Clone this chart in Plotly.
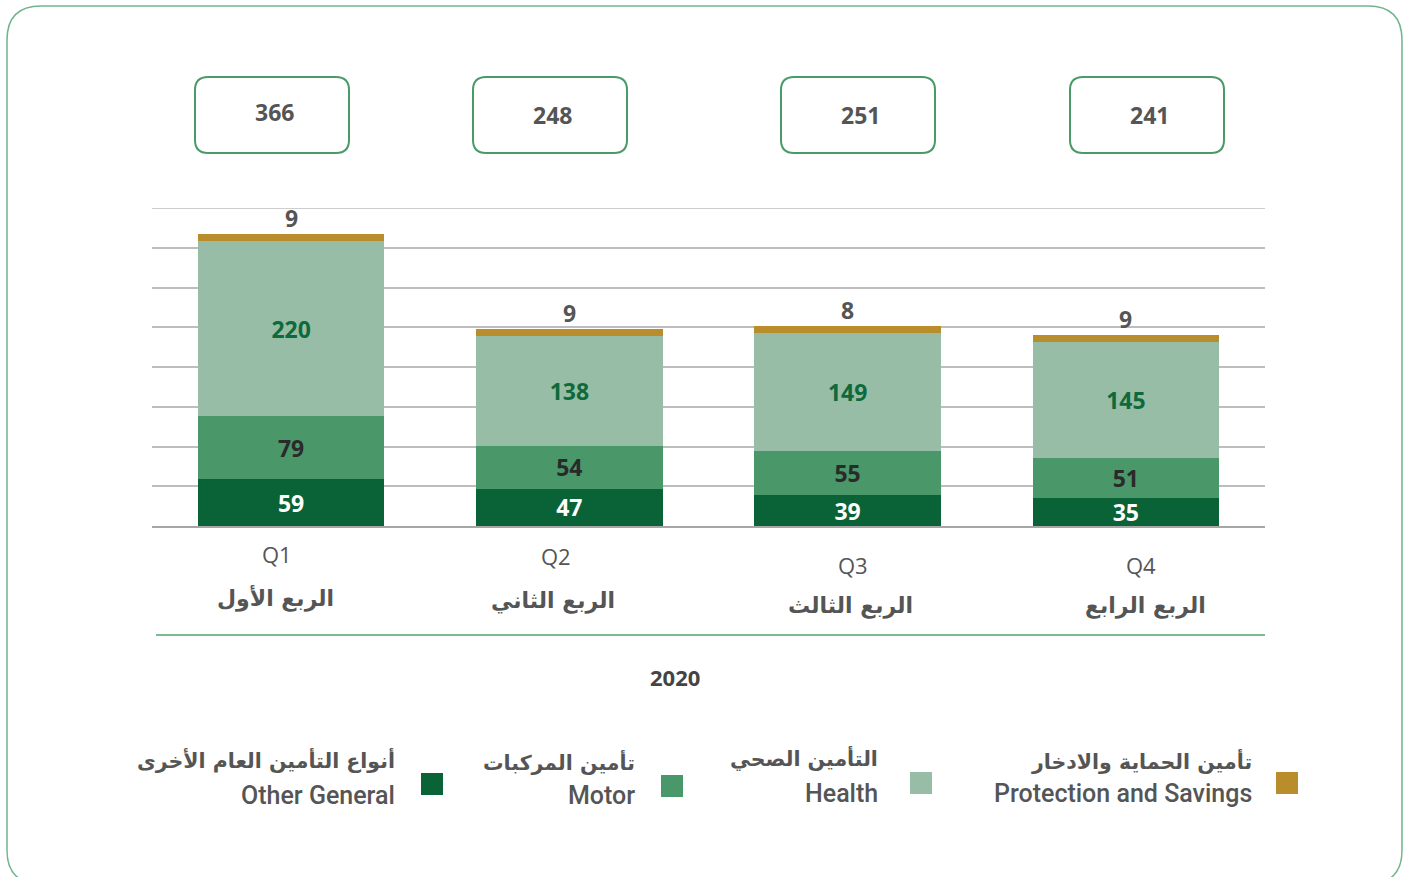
import plotly.graph_objects as go

# ---------------- data ----------------
quarters = ["Q1", "Q2", "Q3", "Q4"]
quarters_ar = ["الربع الأول", "الربع الثاني", "الربع الثالث", "الربع الرابع"]
year_label = "2020"
other_general = [59, 47, 39, 35]
motor = [79, 54, 55, 51]
health = [220, 138, 149, 145]
protection = [9, 9, 8, 9]
totals = [366, 248, 251, 241]
series_en = ["Other General", "Motor", "Health", "Protection and Savings"]
series_ar = ["أنواع التأمين العام الأخرى", "تأمين المركبات", "التأمين الصحي", "تأمين الحماية والادخار"]

# ---------------- style ----------------
W, H = 1407, 877
ML, MR, MT, MB = 152, 142, 208, 351
PW, PH = W - ML - MR, H - MT - MB
C_DARK = "#0a6337"
C_MOTOR = "#4a9869"
C_HEALTH = "#98bda6"
C_GOLD = "#b98c2c"
GRAY = "#555555"
FONT = "Open Sans, DejaVu Sans, sans-serif"
LFONT = "Roboto, DejaVu Sans, sans-serif"
AFONT = "DejaVu Sans, sans-serif"


def px(x):
    return (x - ML) / PW


def py(y):
    return (MT + PH - y) / PH


def rounded_rect(x0, y0, x1, y1, r):
    rx, ry = r / PW, r / PH
    X0, X1 = px(x0), px(x1)
    Y0, Y1 = py(y0), py(y1)
    return (f"M {X0+rx},{Y0} L {X1-rx},{Y0} Q {X1},{Y0} {X1},{Y0-ry} "
            f"L {X1},{Y1+ry} Q {X1},{Y1} {X1-rx},{Y1} "
            f"L {X0+rx},{Y1} Q {X0},{Y1} {X0},{Y1+ry} "
            f"L {X0},{Y0-ry} Q {X0},{Y0} {X0+rx},{Y0} Z")


def label(x, y, text, font, xanchor="center"):
    return dict(x=px(x), y=py(y), xref="paper", yref="paper", text=text,
                showarrow=False, xanchor=xanchor, yanchor="middle", font=font)


fig = go.Figure()

bar_specs = [
    (other_general, C_DARK, "white", True),
    (motor, C_MOTOR, "#2a2a2a", True),
    (health, C_HEALTH, "#0e6a3c", True),
    (protection, C_GOLD, GRAY, False),
]
for (vals, col, tcol, show), name in zip(bar_specs, series_en):
    fig.add_trace(go.Bar(
        x=quarters, y=vals, name=name,
        marker=dict(color=col, line=dict(width=0)),
        text=[str(v) for v in vals] if show else None,
        textposition="inside" if show else "none",
        insidetextanchor="middle",
        textangle=0,
        constraintext="none",
        textfont=dict(family=FONT, size=23, color=tcol, weight="bold"),
        cliponaxis=False,
        showlegend=False,
        hoverinfo="skip",
    ))

annotations = []
shapes = []

# protection labels above the stacks
for i, q in enumerate(quarters):
    top = other_general[i] + motor[i] + health[i] + protection[i]
    annotations.append(dict(
        x=q, y=top, xref="x", yref="y", text=str(protection[i]),
        showarrow=False, xanchor="center", yanchor="middle", yshift=16,
        font=dict(family=FONT, size=23, color=GRAY, weight="bold")))

# top gridline (at range edge)
shapes.append(dict(type="line", xref="paper", yref="y", x0=0, x1=1, y0=400, y1=400,
                   line=dict(color="#bdbdbd", width=1.5)))

# total boxes
box_centers = [272, 550, 858, 1147]
box_text_y = [112, 115, 115, 115]
for i, tot in enumerate(totals):
    cx = box_centers[i]
    shapes.append(dict(type="path", xref="paper", yref="paper",
                       path=rounded_rect(cx - 77, 77, cx + 77, 153, 13),
                       line=dict(color="#4a9a68", width=2), fillcolor="rgba(0,0,0,0)"))
    annotations.append(label(cx + 2, box_text_y[i], str(tot),
                             dict(family=FONT, size=23, color=GRAY, weight="bold")))

# category labels
q_pos = [(277, 554), (556, 556), (853, 565), (1141, 565)]
ar_pos = [(275, 598), (553, 601), (850, 606), (1145, 606)]
for i in range(4):
    annotations.append(label(q_pos[i][0], q_pos[i][1], quarters[i],
                             dict(family=FONT, size=22, color=GRAY)))
    annotations.append(label(ar_pos[i][0], ar_pos[i][1], quarters_ar[i],
                             dict(family=AFONT, size=22, color=GRAY, weight="bold")))

# separator line and year
shapes.append(dict(type="line", xref="paper", yref="paper",
                   x0=px(156), x1=px(1265), y0=py(635), y1=py(635),
                   line=dict(color="#7dbb94", width=2)))
annotations.append(label(675, 677, year_label,
                         dict(family=FONT, size=22, color="#444444", weight="bold")))

# custom legend
leg_colors = [C_DARK, C_MOTOR, C_HEALTH, C_GOLD]
sq_x = [421, 661, 910, 1276]
sq_y = [773, 775, 772, 772]
txt_right = [397, 637, 880, 1254]
ar_y = [760, 762, 758, 761]
en_y = [795, 795, 793, 793]
for i in range(4):
    shapes.append(dict(type="rect", xref="paper", yref="paper",
                       x0=px(sq_x[i]), x1=px(sq_x[i] + 22), y0=py(sq_y[i]), y1=py(sq_y[i] + 22),
                       line=dict(width=0), fillcolor=leg_colors[i]))
    annotations.append(label(txt_right[i], ar_y[i], series_ar[i],
                             dict(family=AFONT, size=20.5, color=GRAY, weight="bold"), "right"))
    annotations.append(label(txt_right[i], en_y[i], series_en[i],
                             dict(family=LFONT, size=25, color=GRAY, weight=500), "right"))

# outer rounded frame
shapes.append(dict(type="path", xref="paper", yref="paper",
                   path=rounded_rect(7, 6, 1402, 884, 34),
                   line=dict(color="#6fb58a", width=1.5), fillcolor="rgba(0,0,0,0)"))

fig.update_layout(
    width=W, height=H,
    margin=dict(l=ML, r=MR, t=MT, b=MB),
    paper_bgcolor="white", plot_bgcolor="white",
    barmode="stack", bargap=0.33,
    showlegend=False,
    xaxis=dict(showticklabels=False, showline=True, linecolor="#a6a6a6", linewidth=2,
               showgrid=False, ticks=""),
    yaxis=dict(range=[0, 400], dtick=50, showticklabels=False, showgrid=True,
               gridcolor="#bdbdbd", gridwidth=1.5, zeroline=False, showline=False),
    annotations=annotations,
    shapes=shapes,
    font=dict(family=FONT),
)

fig.write_html("out.html", config={"displayModeBar": False},
               post_script="document.body.style.margin='0';document.body.style.overflow='hidden';")
